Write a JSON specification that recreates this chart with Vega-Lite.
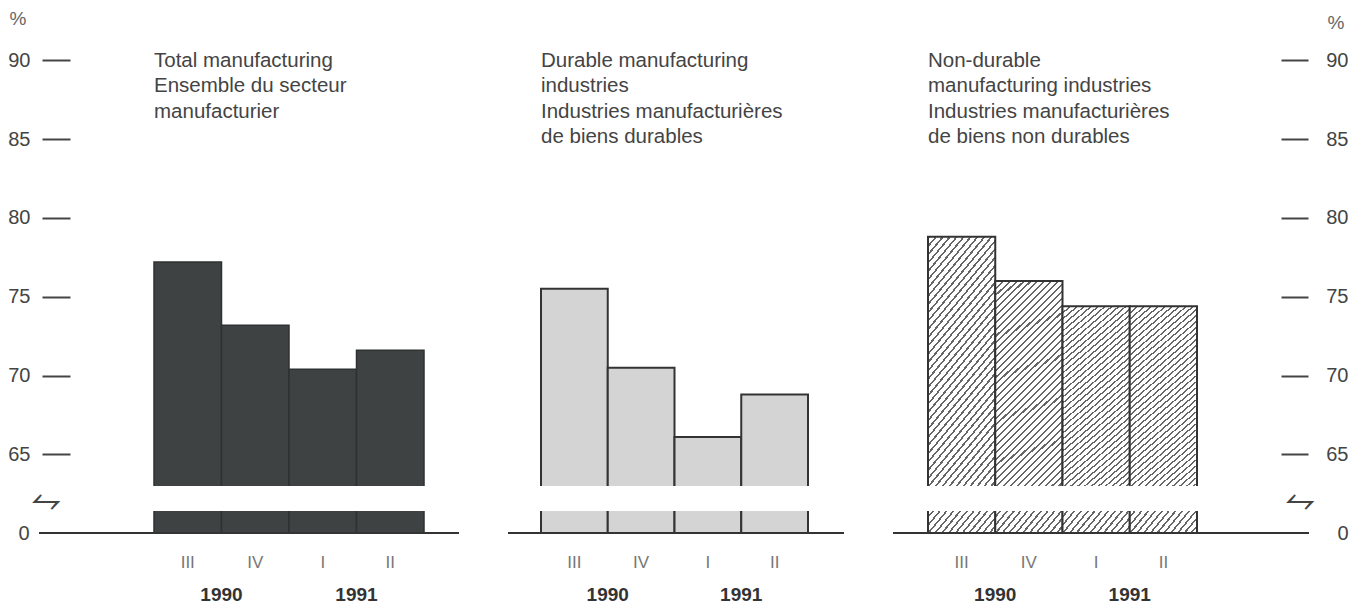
{
  "$schema": "https://vega.github.io/schema/vega-lite/v6.json",
  "background": "white",
  "padding": {"left": 7, "top": 5, "right": 5, "bottom": 0},
  "autosize": {"type": "pad"},
  "config": {
    "view": {"stroke": null},
    "font": "Liberation Sans",
    "axis": {"labelFont": "Liberation Sans", "titleFont": "Liberation Sans", "grid": false}
  },
  "datasets": {
    "bars": [
      {"panel": "total", "q": "III", "year": "1990", "value": 77.2},
      {"panel": "total", "q": "IV", "year": "1990", "value": 73.2},
      {"panel": "total", "q": "I", "year": "1991", "value": 70.4},
      {"panel": "total", "q": "II", "year": "1991", "value": 71.6},
      {"panel": "durable", "q": "III", "year": "1990", "value": 75.5},
      {"panel": "durable", "q": "IV", "year": "1990", "value": 70.5},
      {"panel": "durable", "q": "I", "year": "1991", "value": 66.1},
      {"panel": "durable", "q": "II", "year": "1991", "value": 68.8},
      {"panel": "nondurable", "q": "III", "year": "1990", "value": 78.8},
      {"panel": "nondurable", "q": "IV", "year": "1990", "value": 76.0},
      {"panel": "nondurable", "q": "I", "year": "1991", "value": 74.4},
      {"panel": "nondurable", "q": "II", "year": "1991", "value": 74.4}
    ]
  },
  "concat": [
    {
      "width": 420, "height": 481,
      "layer": [
        {
          "data": {"name": "bars"},
          "transform": [{"filter": "datum.panel === 'total'"}],
          "mark": {"type": "bar", "clip": true, "fill": "#3e4242", "stroke": "#2f3232", "strokeWidth": 1.5},
          "encoding": {
            "x": {"field": "q", "type": "nominal", "scale": {"type": "band", "domain": ["III", "IV", "I", "II"], "paddingInner": 0, "paddingOuter": 0, "range": [115, 385]}, "axis": null},
            "y": {"field": "value", "type": "quantitative", "scale": {"domain": [63, 93.5], "zero": false, "nice": false},
              "axis": {"orient": "left", "values": [65, 70, 75, 80, 85, 90], "domain": false, "grid": false, "ticks": true, "tickSize": 28, "tickWidth": 2, "tickColor": "#444", "offset": -31, "labelPadding": 12, "labelFontSize": 20, "labelColor": "#444", "title": "%", "titleAngle": 0, "titleX": -61, "titleY": 13, "titleAlign": "left", "titleBaseline": "middle", "titleFontSize": 19, "titleFontWeight": "normal", "titleColor": "#666"}},
            "y2": {"datum": 62.85}
          }
        },
        {
          "data": {"values": [{"t": "Total manufacturing\nEnsemble du secteur\nmanufacturier"}]},
          "mark": {"type": "text", "align": "left", "baseline": "alphabetic", "lineBreak": "\n", "lineHeight": 25.5, "font": "Liberation Sans", "fontSize": 20.5, "color": "#444"},
          "encoding": {
            "x": {"datum": "III", "type": "nominal", "bandPosition": 0},
            "y": {"datum": 89.6, "type": "quantitative"},
            "text": {"field": "t"}
          }
        }
      ]
    },
    {
      "width": 336, "height": 481,
      "layer": [
        {
          "data": {"name": "bars"},
          "transform": [{"filter": "datum.panel === 'durable'"}],
          "mark": {"type": "bar", "clip": true, "fill": "#d4d4d4", "stroke": "#333333", "strokeWidth": 2},
          "encoding": {
            "x": {"field": "q", "type": "nominal", "scale": {"type": "band", "domain": ["III", "IV", "I", "II"], "paddingInner": 0, "paddingOuter": 0, "range": [33, 300]}, "axis": null},
            "y": {"field": "value", "type": "quantitative", "scale": {"domain": [63, 93.5], "zero": false, "nice": false}, "axis": null},
            "y2": {"datum": 62.85}
          }
        },
        {
          "data": {"values": [{"t": "Durable manufacturing\nindustries\nIndustries manufacturières\nde biens durables"}]},
          "mark": {"type": "text", "align": "left", "baseline": "alphabetic", "lineBreak": "\n", "lineHeight": 25.5, "font": "Liberation Sans", "fontSize": 20.5, "color": "#444"},
          "encoding": {
            "x": {"datum": "III", "type": "nominal", "bandPosition": 0},
            "y": {"datum": 89.6, "type": "quantitative"},
            "text": {"field": "t"}
          }
        }
      ]
    },
    {
      "width": 416, "height": 481,
      "layer": [
        {
          "data": {"name": "bars"},
          "transform": [{"filter": "datum.panel === 'nondurable'"}],
          "mark": {"type": "bar", "clip": true, "stroke": "#333333", "strokeWidth": 2,
            "fill": {"gradient": "linear", "x1": 0, "y1": 0, "x2": 0.382, "y2": 1.197, "stops": [
              {"offset":0,"color":"#666"},{"offset":0.0075,"color":"#666"},{"offset":0.0075,"color":"#fff"},{"offset":0.025,"color":"#fff"},
              {"offset":0.025,"color":"#666"},{"offset":0.0325,"color":"#666"},{"offset":0.0325,"color":"#fff"},{"offset":0.05,"color":"#fff"},
              {"offset":0.05,"color":"#666"},{"offset":0.0575,"color":"#666"},{"offset":0.0575,"color":"#fff"},{"offset":0.075,"color":"#fff"},
              {"offset":0.075,"color":"#666"},{"offset":0.0825,"color":"#666"},{"offset":0.0825,"color":"#fff"},{"offset":0.1,"color":"#fff"},
              {"offset":0.1,"color":"#666"},{"offset":0.1075,"color":"#666"},{"offset":0.1075,"color":"#fff"},{"offset":0.125,"color":"#fff"},
              {"offset":0.125,"color":"#666"},{"offset":0.1325,"color":"#666"},{"offset":0.1325,"color":"#fff"},{"offset":0.15,"color":"#fff"},
              {"offset":0.15,"color":"#666"},{"offset":0.1575,"color":"#666"},{"offset":0.1575,"color":"#fff"},{"offset":0.175,"color":"#fff"},
              {"offset":0.175,"color":"#666"},{"offset":0.1825,"color":"#666"},{"offset":0.1825,"color":"#fff"},{"offset":0.2,"color":"#fff"},
              {"offset":0.2,"color":"#666"},{"offset":0.2075,"color":"#666"},{"offset":0.2075,"color":"#fff"},{"offset":0.225,"color":"#fff"},
              {"offset":0.225,"color":"#666"},{"offset":0.2325,"color":"#666"},{"offset":0.2325,"color":"#fff"},{"offset":0.25,"color":"#fff"},
              {"offset":0.25,"color":"#666"},{"offset":0.2575,"color":"#666"},{"offset":0.2575,"color":"#fff"},{"offset":0.275,"color":"#fff"},
              {"offset":0.275,"color":"#666"},{"offset":0.2825,"color":"#666"},{"offset":0.2825,"color":"#fff"},{"offset":0.3,"color":"#fff"},
              {"offset":0.3,"color":"#666"},{"offset":0.3075,"color":"#666"},{"offset":0.3075,"color":"#fff"},{"offset":0.325,"color":"#fff"},
              {"offset":0.325,"color":"#666"},{"offset":0.3325,"color":"#666"},{"offset":0.3325,"color":"#fff"},{"offset":0.35,"color":"#fff"},
              {"offset":0.35,"color":"#666"},{"offset":0.3575,"color":"#666"},{"offset":0.3575,"color":"#fff"},{"offset":0.375,"color":"#fff"},
              {"offset":0.375,"color":"#666"},{"offset":0.3825,"color":"#666"},{"offset":0.3825,"color":"#fff"},{"offset":0.4,"color":"#fff"},
              {"offset":0.4,"color":"#666"},{"offset":0.4075,"color":"#666"},{"offset":0.4075,"color":"#fff"},{"offset":0.425,"color":"#fff"},
              {"offset":0.425,"color":"#666"},{"offset":0.4325,"color":"#666"},{"offset":0.4325,"color":"#fff"},{"offset":0.45,"color":"#fff"},
              {"offset":0.45,"color":"#666"},{"offset":0.4575,"color":"#666"},{"offset":0.4575,"color":"#fff"},{"offset":0.475,"color":"#fff"},
              {"offset":0.475,"color":"#666"},{"offset":0.4825,"color":"#666"},{"offset":0.4825,"color":"#fff"},{"offset":0.5,"color":"#fff"},
              {"offset":0.5,"color":"#666"},{"offset":0.5075,"color":"#666"},{"offset":0.5075,"color":"#fff"},{"offset":0.525,"color":"#fff"},
              {"offset":0.525,"color":"#666"},{"offset":0.5325,"color":"#666"},{"offset":0.5325,"color":"#fff"},{"offset":0.55,"color":"#fff"},
              {"offset":0.55,"color":"#666"},{"offset":0.5575,"color":"#666"},{"offset":0.5575,"color":"#fff"},{"offset":0.575,"color":"#fff"},
              {"offset":0.575,"color":"#666"},{"offset":0.5825,"color":"#666"},{"offset":0.5825,"color":"#fff"},{"offset":0.6,"color":"#fff"},
              {"offset":0.6,"color":"#666"},{"offset":0.6075,"color":"#666"},{"offset":0.6075,"color":"#fff"},{"offset":0.625,"color":"#fff"},
              {"offset":0.625,"color":"#666"},{"offset":0.6325,"color":"#666"},{"offset":0.6325,"color":"#fff"},{"offset":0.65,"color":"#fff"},
              {"offset":0.65,"color":"#666"},{"offset":0.6575,"color":"#666"},{"offset":0.6575,"color":"#fff"},{"offset":0.675,"color":"#fff"},
              {"offset":0.675,"color":"#666"},{"offset":0.6825,"color":"#666"},{"offset":0.6825,"color":"#fff"},{"offset":0.7,"color":"#fff"},
              {"offset":0.7,"color":"#666"},{"offset":0.7075,"color":"#666"},{"offset":0.7075,"color":"#fff"},{"offset":0.725,"color":"#fff"},
              {"offset":0.725,"color":"#666"},{"offset":0.7325,"color":"#666"},{"offset":0.7325,"color":"#fff"},{"offset":0.75,"color":"#fff"},
              {"offset":0.75,"color":"#666"},{"offset":0.7575,"color":"#666"},{"offset":0.7575,"color":"#fff"},{"offset":0.775,"color":"#fff"},
              {"offset":0.775,"color":"#666"},{"offset":0.7825,"color":"#666"},{"offset":0.7825,"color":"#fff"},{"offset":0.8,"color":"#fff"},
              {"offset":0.8,"color":"#666"},{"offset":0.8075,"color":"#666"},{"offset":0.8075,"color":"#fff"},{"offset":0.825,"color":"#fff"},
              {"offset":0.825,"color":"#666"},{"offset":0.8325,"color":"#666"},{"offset":0.8325,"color":"#fff"},{"offset":0.85,"color":"#fff"},
              {"offset":0.85,"color":"#666"},{"offset":0.8575,"color":"#666"},{"offset":0.8575,"color":"#fff"},{"offset":0.875,"color":"#fff"},
              {"offset":0.875,"color":"#666"},{"offset":0.8825,"color":"#666"},{"offset":0.8825,"color":"#fff"},{"offset":0.9,"color":"#fff"},
              {"offset":0.9,"color":"#666"},{"offset":0.9075,"color":"#666"},{"offset":0.9075,"color":"#fff"},{"offset":0.925,"color":"#fff"},
              {"offset":0.925,"color":"#666"},{"offset":0.9325,"color":"#666"},{"offset":0.9325,"color":"#fff"},{"offset":0.95,"color":"#fff"},
              {"offset":0.95,"color":"#666"},{"offset":0.9575,"color":"#666"},{"offset":0.9575,"color":"#fff"},{"offset":0.975,"color":"#fff"},
              {"offset":0.975,"color":"#666"},{"offset":0.9825,"color":"#666"},{"offset":0.9825,"color":"#fff"},{"offset":1,"color":"#fff"}
            ]}},
          "encoding": {
            "x": {"field": "q", "type": "nominal", "scale": {"type": "band", "domain": ["III", "IV", "I", "II"], "paddingInner": 0, "paddingOuter": 0, "range": [35, 304]}, "axis": null},
            "y": {"field": "value", "type": "quantitative", "scale": {"domain": [63, 93.5], "zero": false, "nice": false},
              "axis": {"orient": "right", "values": [65, 70, 75, 80, 85, 90], "domain": false, "grid": false, "ticks": true, "tickSize": 27, "tickWidth": 2, "tickColor": "#444", "offset": -28, "labelAlign": "right", "labelPadding": 40, "labelFontSize": 20, "labelColor": "#444", "title": "%", "titleAngle": 0, "titleX": 63, "titleY": 17, "titleAlign": "right", "titleBaseline": "middle", "titleFontSize": 19, "titleFontWeight": "normal", "titleColor": "#666"}},
            "y2": {"datum": 62.85}
          }
        },
        {
          "data": {"values": [{"t": "Non-durable\nmanufacturing industries\nIndustries manufacturières\nde biens non durables"}]},
          "mark": {"type": "text", "align": "left", "baseline": "alphabetic", "lineBreak": "\n", "lineHeight": 25.5, "font": "Liberation Sans", "fontSize": 20.5, "color": "#444"},
          "encoding": {
            "x": {"datum": "III", "type": "nominal", "bandPosition": 0},
            "y": {"datum": 89.6, "type": "quantitative"},
            "text": {"field": "t"}
          }
        }
      ]
    },
    {
      "width": 420, "height": 22,
      "layer": [
        {
          "data": {"name": "bars"},
          "transform": [{"filter": "datum.panel === 'total'"}],
          "mark": {"type": "bar", "clip": true, "fill": "#3e4242", "stroke": "#2f3232", "strokeWidth": 1.5},
          "encoding": {
            "x": {"field": "q", "type": "nominal", "scale": {"type": "band", "domain": ["III", "IV", "I", "II"], "paddingInner": 0, "paddingOuter": 0, "range": [115, 385]},
              "axis": {"orient": "bottom", "domain": false, "ticks": false, "tickSize": 0, "labelPadding": 21, "labelFontSize": 17, "labelColor": "#777", "labelAngle": 0, "title": null}},
            "y": {"datum": 1.15, "type": "quantitative", "scale": {"domain": [0, 1], "nice": false, "zero": true},
              "axis": {"orient": "left", "values": [0], "domain": false, "ticks": false, "tickSize": 0, "labelPadding": 10, "labelFontSize": 20, "labelColor": "#444", "title": "⥊", "titleAngle": 0, "titleX": 6, "titleY": -11, "titleAlign": "center", "titleBaseline": "middle", "titleFont": "DejaVu Sans", "titleFontSize": 38, "titleFontWeight": "normal", "titleColor": "#444"}},
            "y2": {"datum": 0}
          }
        },
        {
          "data": {"name": "bars"},
          "transform": [{"filter": "datum.panel === 'total'"}],
          "mark": {"type": "bar", "opacity": 0},
          "encoding": {
            "x": {"field": "year", "type": "nominal", "scale": {"type": "band", "domain": ["1990", "1991"], "paddingInner": 0, "paddingOuter": 0, "range": [115, 385]},
              "axis": {"orient": "bottom", "domain": false, "ticks": false, "tickSize": 0, "labelPadding": 52, "labelFontSize": 19, "labelFontWeight": "bold", "labelColor": "#333", "labelAngle": 0, "title": null}}
          }
        },
        {
          "data": {"values": [{}]},
          "mark": {"type": "rule", "color": "#333", "strokeWidth": 2},
          "encoding": {"y": {"datum": 0, "type": "quantitative"}}
        }
      ],
      "resolve": {"scale": {"x": "independent"}, "axis": {"x": "independent"}}
    },
    {
      "width": 336, "height": 22,
      "layer": [
        {
          "data": {"name": "bars"},
          "transform": [{"filter": "datum.panel === 'durable'"}],
          "mark": {"type": "bar", "clip": true, "fill": "#d4d4d4", "stroke": "#333333", "strokeWidth": 2},
          "encoding": {
            "x": {"field": "q", "type": "nominal", "scale": {"type": "band", "domain": ["III", "IV", "I", "II"], "paddingInner": 0, "paddingOuter": 0, "range": [33, 300]},
              "axis": {"orient": "bottom", "domain": false, "ticks": false, "tickSize": 0, "labelPadding": 21, "labelFontSize": 17, "labelColor": "#777", "labelAngle": 0, "title": null}},
            "y": {"datum": 1.15, "type": "quantitative", "scale": {"domain": [0, 1], "nice": false, "zero": true}, "axis": null},
            "y2": {"datum": 0}
          }
        },
        {
          "data": {"name": "bars"},
          "transform": [{"filter": "datum.panel === 'durable'"}],
          "mark": {"type": "bar", "opacity": 0},
          "encoding": {
            "x": {"field": "year", "type": "nominal", "scale": {"type": "band", "domain": ["1990", "1991"], "paddingInner": 0, "paddingOuter": 0, "range": [33, 300]},
              "axis": {"orient": "bottom", "domain": false, "ticks": false, "tickSize": 0, "labelPadding": 52, "labelFontSize": 19, "labelFontWeight": "bold", "labelColor": "#333", "labelAngle": 0, "title": null}}
          }
        },
        {
          "data": {"values": [{}]},
          "mark": {"type": "rule", "color": "#333", "strokeWidth": 2},
          "encoding": {"y": {"datum": 0, "type": "quantitative"}}
        }
      ],
      "resolve": {"scale": {"x": "independent"}, "axis": {"x": "independent"}}
    },
    {
      "width": 416, "height": 22,
      "layer": [
        {
          "data": {"name": "bars"},
          "transform": [{"filter": "datum.panel === 'nondurable'"}],
          "mark": {"type": "bar", "clip": true, "stroke": "#333333", "strokeWidth": 2,
            "fill": {"gradient": "linear", "x1": 0, "y1": 0, "x2": 1.196, "y2": 0.375, "stops": [
              {"offset":0,"color":"#666"},{"offset":0.0231,"color":"#666"},{"offset":0.0231,"color":"#fff"},{"offset":0.0769,"color":"#fff"},
              {"offset":0.0769,"color":"#666"},{"offset":0.1,"color":"#666"},{"offset":0.1,"color":"#fff"},{"offset":0.1538,"color":"#fff"},
              {"offset":0.1538,"color":"#666"},{"offset":0.1769,"color":"#666"},{"offset":0.1769,"color":"#fff"},{"offset":0.2308,"color":"#fff"},
              {"offset":0.2308,"color":"#666"},{"offset":0.2539,"color":"#666"},{"offset":0.2539,"color":"#fff"},{"offset":0.3077,"color":"#fff"},
              {"offset":0.3077,"color":"#666"},{"offset":0.3308,"color":"#666"},{"offset":0.3308,"color":"#fff"},{"offset":0.3846,"color":"#fff"},
              {"offset":0.3846,"color":"#666"},{"offset":0.4077,"color":"#666"},{"offset":0.4077,"color":"#fff"},{"offset":0.4615,"color":"#fff"},
              {"offset":0.4615,"color":"#666"},{"offset":0.4846,"color":"#666"},{"offset":0.4846,"color":"#fff"},{"offset":0.5385,"color":"#fff"},
              {"offset":0.5385,"color":"#666"},{"offset":0.5616,"color":"#666"},{"offset":0.5616,"color":"#fff"},{"offset":0.6154,"color":"#fff"},
              {"offset":0.6154,"color":"#666"},{"offset":0.6385,"color":"#666"},{"offset":0.6385,"color":"#fff"},{"offset":0.6923,"color":"#fff"},
              {"offset":0.6923,"color":"#666"},{"offset":0.7154,"color":"#666"},{"offset":0.7154,"color":"#fff"},{"offset":0.7692,"color":"#fff"},
              {"offset":0.7692,"color":"#666"},{"offset":0.7923,"color":"#666"},{"offset":0.7923,"color":"#fff"},{"offset":0.8462,"color":"#fff"},
              {"offset":0.8462,"color":"#666"},{"offset":0.8693,"color":"#666"},{"offset":0.8693,"color":"#fff"},{"offset":0.9231,"color":"#fff"},
              {"offset":0.9231,"color":"#666"},{"offset":0.9462,"color":"#666"},{"offset":0.9462,"color":"#fff"},{"offset":1,"color":"#fff"}
            ]}},
          "encoding": {
            "x": {"field": "q", "type": "nominal", "scale": {"type": "band", "domain": ["III", "IV", "I", "II"], "paddingInner": 0, "paddingOuter": 0, "range": [35, 304]},
              "axis": {"orient": "bottom", "domain": false, "ticks": false, "tickSize": 0, "labelPadding": 21, "labelFontSize": 17, "labelColor": "#777", "labelAngle": 0, "title": null}},
            "y": {"datum": 1.15, "type": "quantitative", "scale": {"domain": [0, 1], "nice": false, "zero": true},
              "axis": {"orient": "right", "values": [0], "domain": false, "ticks": false, "tickSize": 0, "labelAlign": "right", "labelPadding": 39, "labelFontSize": 20, "labelColor": "#444", "title": "⥊", "titleAngle": 0, "titleX": -10, "titleY": -11, "titleAlign": "center", "titleBaseline": "middle", "titleFont": "DejaVu Sans", "titleFontSize": 38, "titleFontWeight": "normal", "titleColor": "#444"}},
            "y2": {"datum": 0}
          }
        },
        {
          "data": {"name": "bars"},
          "transform": [{"filter": "datum.panel === 'nondurable'"}],
          "mark": {"type": "bar", "opacity": 0},
          "encoding": {
            "x": {"field": "year", "type": "nominal", "scale": {"type": "band", "domain": ["1990", "1991"], "paddingInner": 0, "paddingOuter": 0, "range": [35, 304]},
              "axis": {"orient": "bottom", "domain": false, "ticks": false, "tickSize": 0, "labelPadding": 52, "labelFontSize": 19, "labelFontWeight": "bold", "labelColor": "#333", "labelAngle": 0, "title": null}}
          }
        },
        {
          "data": {"values": [{}]},
          "mark": {"type": "rule", "color": "#333", "strokeWidth": 2},
          "encoding": {"y": {"datum": 0, "type": "quantitative"}}
        }
      ],
      "resolve": {"scale": {"x": "independent"}, "axis": {"x": "independent"}}
    }
  ],
  "columns": 3,
  "spacing": {"row": 25, "column": 49},
  "bounds": "flush",
  "align": "each"
}
